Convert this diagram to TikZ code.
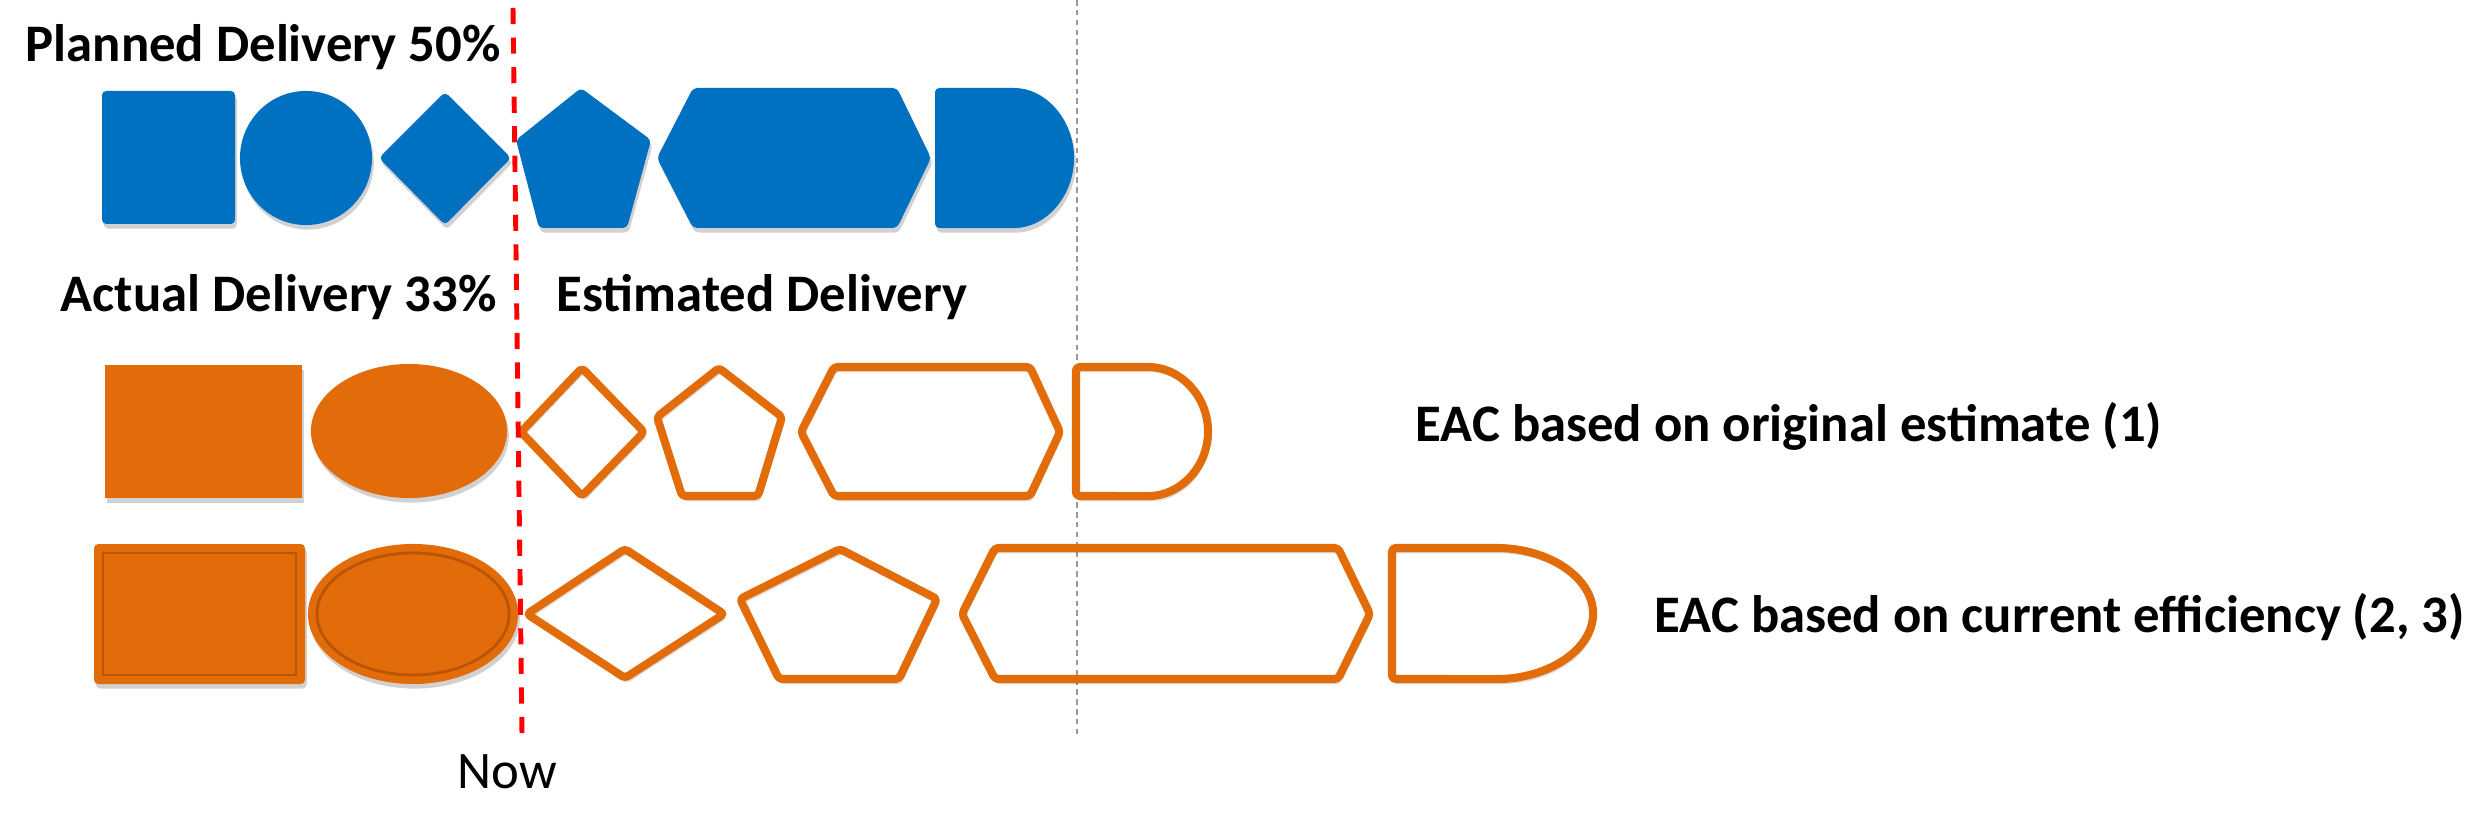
\documentclass[tikz,border=0pt]{standalone}
\usepackage{fontspec}
\setmainfont{Carlito}
\definecolor{pblue}{HTML}{0070C0}
\definecolor{porange}{HTML}{E36C0A}
\definecolor{pdark}{HTML}{B95505}
\begin{document}
\begin{tikzpicture}[x=0.01cm,y=-0.01cm,
  lbl/.style={anchor=base west, inner sep=0pt, font=\fontsize{15}{18}\selectfont\bfseries},
  nowlbl/.style={anchor=base west, inner sep=0pt, font=\fontsize{15}{18}\selectfont},
  fshadow/.style={preaction={fill=black, fill opacity=0.18, transform canvas={xshift=0.5pt, yshift=-1.3pt}}},
  oshadow/.style={preaction={draw=black, draw opacity=0.15, transform canvas={xshift=0.5pt, yshift=-1.3pt}}},
  bluefill/.style={fill=pblue, fshadow, rounded corners=1.2pt},
  orangefill/.style={fill=porange, fshadow},
  orangeline/.style={draw=porange, line width=2.3pt, line join=round, rounded corners=1pt, oshadow},
  bevel/.style={draw=pdark, line width=0.8pt},
  nowline/.style={draw=red, line width=1.4pt, dash pattern=on 4.6pt off 3.8pt},
  endline/.style={draw=black!40, line width=0.4pt, dash pattern=on 1.6pt off 1.2pt}]
\useasboundingbox (0,0) rectangle (2489,813);

% end-of-plan line (behind the shapes)
\coordinate (endtop) at (1077,0);
\coordinate (endbot) at (1077,738);
\draw[endline] (endtop) -- (endbot);

% Planned delivery (blue)
\path[bluefill] (102,91) rectangle (235,224);
\path[bluefill] (306,158) ellipse [x radius=0.66cm, y radius=0.67cm];
\path[bluefill] (379,158) -- (445,92) -- (511,158) -- (445,225) -- cycle;
\path[bluefill] (581,88) -- (651,140) -- (627,228) -- (539,228) -- (516,140) -- cycle;
\path[bluefill] (693,88) -- (897,88) -- (931,158) -- (897,228) -- (693,228) -- (657,158) -- cycle;
\path[bluefill] (935,88) -- (1010,88) arc[start angle=90, end angle=-90, x radius=0.64cm, y radius=0.70cm] -- (935,228) -- cycle;

% Actual + estimated delivery, row 1
\path[orangefill] (105,365) rectangle (302,498);
\path[orangefill] (409,431) ellipse [x radius=0.98cm, y radius=0.67cm];
\path[orangeline] (521,432) -- (582,368) -- (644,432) -- (582,496) -- cycle;
\path[orangeline] (719,368) -- (782,417) -- (758,496) -- (682,496) -- (657,417) -- cycle;
\path[orangeline] (834,367) -- (1030,367) -- (1060,432) -- (1030,496) -- (834,496) -- (801,432) -- cycle;
\path[orangeline] (1076,367) -- (1145,367) arc[start angle=90, end angle=-90, x radius=0.63cm, y radius=0.645cm] -- (1076,496) -- cycle;

% Actual + estimated delivery, row 2
\path[orangefill, rounded corners=1.2pt] (94,544) rectangle (305,684);
\path[bevel] (103,553) rectangle (296,675);
\path[orangefill] (413,614) ellipse [x radius=1.05cm, y radius=0.70cm];
\path[bevel] (413,614) ellipse [x radius=0.96cm, y radius=0.61cm];
\path[orangeline] (527,614) -- (625,549) -- (724,614) -- (625,678) -- cycle;
\path[orangeline] (840,549) -- (937,599) -- (899,679) -- (779,679) -- (740,599) -- cycle;
\path[orangeline] (995,548) -- (1338,548) -- (1370,614) -- (1338,679) -- (995,679) -- (962,614) -- cycle;
\path[orangeline] (1392,548) -- (1493,548) arc[start angle=90, end angle=-90, x radius=1.00cm, y radius=0.655cm] -- (1392,679) -- cycle;

% Now line
\coordinate (nowtop) at (513,8);
\coordinate (nowbot) at (522,735);
\draw[nowline] (nowtop) -- (nowbot);

% Labels
\node[lbl] (planned) at (25,62) {Planned Delivery 50\%};
\node[lbl] (actual) at (60,312) {Actual Delivery 33\%};
\node[lbl] (estimated) at (556,312) {Estimated Delivery};
\node[lbl] (eac1) at (1415,442) {EAC based on original estimate (1)};
\node[lbl] (eac2) at (1654,632) {EAC based on current efficiency (2, 3)};
\node[nowlbl] (now) at (457,788) {Now};
\end{tikzpicture}
\end{document}
